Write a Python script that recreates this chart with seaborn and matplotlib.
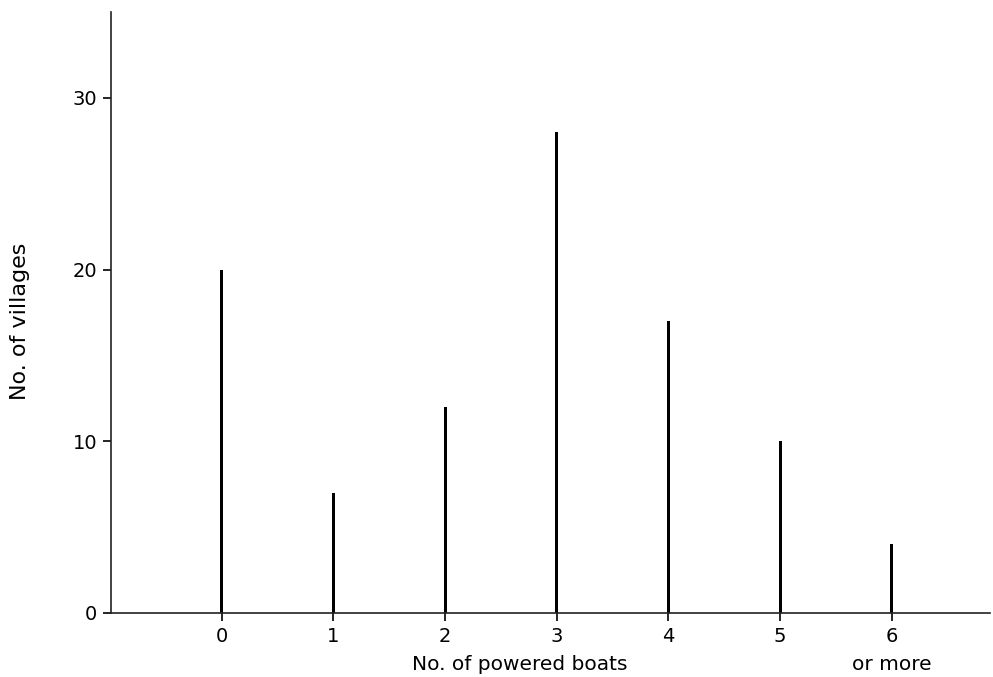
import matplotlib
matplotlib.use("Agg")
import matplotlib.pyplot as plt
import seaborn as sns
import pandas as pd

# Number of powered boats per village and how many villages have that many
boats = [0, 1, 2, 3, 4, 5, 6]
villages = [20, 7, 12, 28, 17, 10, 4]
tick_labels = ["0", "1", "2", "3", "4", "5", "6"]

df = pd.DataFrame({"boats": boats, "villages": villages})

sns.set_style("ticks")
plt.rcParams["font.family"] = ["DejaVu Sans"]
plt.rcParams["text.color"] = "black"
plt.rcParams["axes.labelcolor"] = "black"

fig = plt.figure(figsize=(9.93, 6.77), dpi=100)
ax = fig.add_axes([0.112, 0.095, 0.885, 0.887])

sns.barplot(data=df, x="boats", y="villages", native_scale=True,
            width=0.026, color="black", linewidth=0, ax=ax)

ax.set_xlim(-0.99, 6.88)
ax.set_ylim(0, 35)
ax.set_xticks(boats)
ax.set_xticklabels(tick_labels, fontsize=14)
ax.set_yticks([0, 10, 20, 30])
ax.set_yticklabels(["0", "10", "20", "30"], fontsize=14)

ax.tick_params(axis="both", direction="out", length=6, width=1.2,
               colors="black", pad=4)
for side in ("top", "right"):
    ax.spines[side].set_visible(False)
for side in ("left", "bottom"):
    ax.spines[side].set_linewidth(1.2)
    ax.spines[side].set_color("#222222")

ax.set_xlabel("No. of powered boats", fontsize=14.5)
ax.xaxis.set_label_coords(0.465, -0.07)
ax.set_ylabel("No. of villages", fontsize=16)
ax.yaxis.set_label_coords(-0.092, 0.485)
ax.text(6, -0.07, "or more", transform=ax.get_xaxis_transform(),
        ha="center", va="top", fontsize=14.5)

fig.savefig("out.png", dpi=100, facecolor="white")
